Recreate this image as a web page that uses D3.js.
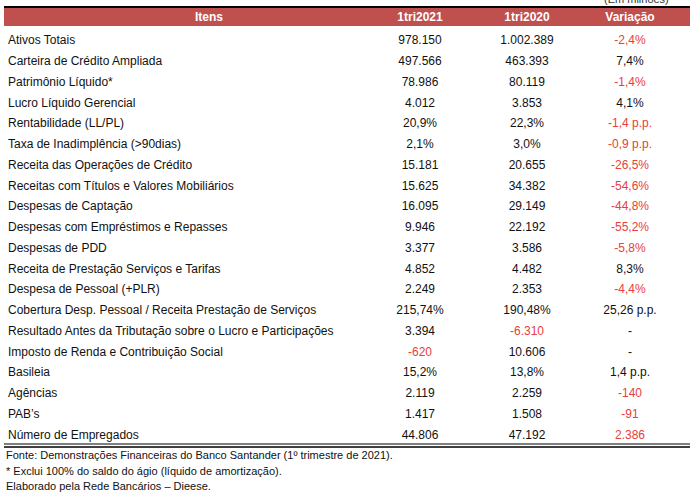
<!DOCTYPE html>
<html><head><meta charset="utf-8">
<script src="https://cdn.jsdelivr.net/npm/d3@7"></script>
<style>body{margin:0;background:#fff}svg{font-family:"Liberation Sans",Arial,sans-serif}</style>
</head><body><svg id="c" width="695" height="492"></svg>
<script>
var itens = ["Ativos Totais","Carteira de Crédito Ampliada","Patrimônio Líquido*","Lucro Líquido Gerencial","Rentabilidade (LL/PL)","Taxa de Inadimplência (>90dias)","Receita das Operações de Crédito","Receitas com Títulos e Valores Mobiliários","Despesas de Captação","Despesas com Empréstimos e Repasses","Despesas de PDD","Receita de Prestação Serviços e Tarifas","Despesa de Pessoal (+PLR)","Cobertura Desp. Pessoal / Receita Prestação de Serviços","Resultado Antes da Tributação sobre o Lucro e Participações","Imposto de Renda e Contribuição Social","Basileia","Agências","PAB’s","Número de Empregados"];
var tri2021 = ["978.150","497.566","78.986","4.012","20,9%","2,1%","15.181","15.625","16.095","9.946","3.377","4.852","2.249","215,74%","3.394","-620","15,2%","2.119","1.417","44.806"];
var tri2020 = ["1.002.389","463.393","80.119","3.853","22,3%","3,0%","20.655","34.382","29.149","22.192","3.586","4.482","2.353","190,48%","-6.310","10.606","13,8%","2.259","1.508","47.192"];
var variacao = ["-2,4%","7,4%","-1,4%","4,1%","-1,4 p.p.","-0,9 p.p.","-26,5%","-54,6%","-44,8%","-55,2%","-5,8%","8,3%","-4,4%","25,26 p.p.","-","-","1,4 p.p.","-140","-91","2.386"];
var redVar = [1,0,1,0,1,1,1,1,1,1,1,0,1,0,0,0,0,1,1,1];
var headers = ["Itens","1tri2021","1tri2020","Variação"];
var notas = ["Fonte: Demonstrações Financeiras do Banco Santander (1º trimestre de 2021).","* Exclui 100% do saldo do ágio (líquido de amortização).","Elaborado pela Rede Bancários – Dieese."];

var svg = d3.select("#c");
var red = "#e8403a";
var y = d3.scaleBand().domain(d3.range(itens.length)).range([30, 445]);
var colX = [209, 420, 527, 630];

svg.append("text").attr("x",604).attr("y",3).attr("font-size",11).attr("fill","#333").text("(Em milhões)");
svg.append("rect").attr("x",4).attr("y",7).attr("width",686).attr("height",19).attr("fill","#c0504d");
svg.append("line").attr("x1",4).attr("x2",690).attr("y1",7).attr("y2",7).attr("stroke","#000").attr("stroke-width",2);
svg.selectAll("text.h").data(headers).join("text").attr("class","h")
  .attr("x",(d,i)=>colX[i]).attr("y",21).attr("text-anchor","middle")
  .attr("font-size",12).attr("font-weight","bold").attr("fill","#fff").text(d=>d);

var g = svg.append("g").attr("font-size",12).attr("fill","#111");
itens.forEach(function(it,i){
  var yy = y(i) + y.bandwidth()/2 + 4;
  g.append("text").attr("x",8).attr("y",yy).text(it);
  g.append("text").attr("x",colX[1]).attr("y",yy).attr("text-anchor","middle").attr("fill", tri2021[i].startsWith("-")?red:"#111").text(tri2021[i]);
  g.append("text").attr("x",colX[2]).attr("y",yy).attr("text-anchor","middle").attr("fill", tri2020[i].startsWith("-")?red:"#111").text(tri2020[i]);
  g.append("text").attr("x",colX[3]).attr("y",yy).attr("text-anchor","middle").attr("fill", redVar[i]?red:"#111").text(variacao[i]);
});
svg.append("line").attr("x1",4).attr("x2",690).attr("y1",444).attr("y2",444).attr("stroke","#000").attr("stroke-width",1);
svg.append("line").attr("x1",4).attr("x2",690).attr("y1",447).attr("y2",447).attr("stroke","#000").attr("stroke-width",1.5);
svg.selectAll("text.n").data(notas).join("text").attr("class","n")
  .attr("x",6).attr("y",(d,i)=>459+i*15.5).attr("font-size",11).attr("fill","#111").text(d=>d);
</script></body></html>
